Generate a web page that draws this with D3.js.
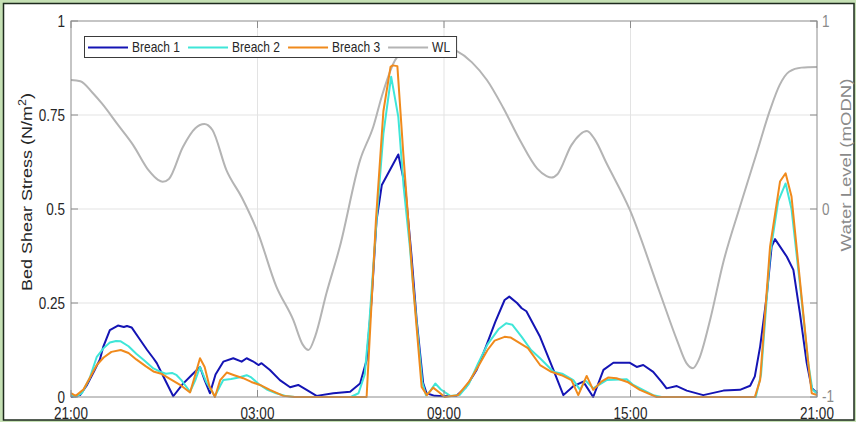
<!DOCTYPE html>
<html>
<head>
<meta charset="utf-8">
<script src="https://cdn.jsdelivr.net/npm/d3@7"></script>
<style>
  body { margin: 0; background: #c5e0b4; }
  svg { display: block; font-family: "Liberation Sans", Arial, sans-serif; }
</style>
</head>
<body>
<svg id="chart" width="856" height="422"></svg>
<script>
// time axis (hours after 21:00)
var tickHours = [0, 6, 12, 18, 24];
var tickLabels = ["21:00", "03:00", "09:00", "15:00", "21:00"];
var stressTicks = [0, 0.25, 0.5, 0.75, 1];
var stressTickLabels = ["0", "0.25", "0.5", "0.75", "1"];
var levelTicks = [-1, -0.5, 0, 0.5, 1];
var levelTickLabels = ["-1", "", "0", "", "1"];

// Breach 1
var b1Hours = [0, 0.29, 0.5, 0.75, 0.93, 1.04, 1.25, 1.51, 1.7, 1.8, 1.95, 2.2, 2.45, 2.65, 2.76, 3, 3.29, 3.6, 3.9, 4.15, 4.3, 4.47, 4.65, 4.9, 5.22, 5.49, 5.65, 5.85, 6.03, 6.13, 6.4, 6.72, 7.05, 7.31, 7.58, 7.9, 8.44, 8.98, 9.3, 9.51, 9.67, 9.83, 10, 10.53, 10.75, 10.95, 11.12, 11.33, 11.44, 11.7, 12, 12.4, 12.7, 13.05, 13.35, 13.65, 13.95, 14.1, 14.35, 14.5, 14.65, 15.09, 15.52, 15.84, 16.15, 16.48, 16.8, 17.13, 17.45, 17.98, 18.2, 18.41, 18.73, 19, 19.16, 19.49, 19.81, 20.34, 20.99, 21.52, 21.85, 22, 22.17, 22.38, 22.54, 22.65, 23.03, 23.24, 23.45, 23.67, 23.83, 24];
var breach1 = [0, 0.005, 0.03, 0.07, 0.1, 0.134, 0.178, 0.19, 0.186, 0.189, 0.185, 0.155, 0.125, 0.103, 0.09, 0.05, 0.002, 0.035, 0.06, 0.08, 0.045, 0.01, 0.06, 0.094, 0.103, 0.094, 0.103, 0.095, 0.085, 0.09, 0.072, 0.045, 0.026, 0.032, 0.019, 0.003, 0.01, 0.014, 0.036, 0.098, 0.258, 0.47, 0.564, 0.645, 0.56, 0.38, 0.205, 0.037, 0.01, 0.003, 0.002, 0.003, 0.025, 0.072, 0.134, 0.2, 0.258, 0.267, 0.25, 0.236, 0.228, 0.16, 0.072, 0.005, 0.028, 0.041, 0, 0.072, 0.091, 0.091, 0.08, 0.085, 0.067, 0.04, 0.023, 0.029, 0.017, 0.005, 0.017, 0.019, 0.03, 0.055, 0.134, 0.267, 0.4, 0.42, 0.373, 0.338, 0.223, 0.09, 0.024, 0.01];

// Breach 2
var b2Hours = [0, 0.15, 0.35, 0.6, 0.83, 1.05, 1.25, 1.45, 1.6, 1.85, 2.1, 2.35, 2.65, 2.85, 3.05, 3.25, 3.4, 3.55, 3.83, 4, 4.15, 4.35, 4.63, 4.8, 4.9, 5.15, 5.4, 5.65, 5.8, 6.03, 6.3, 6.6, 6.9, 7.2, 9, 9.25, 9.45, 9.6, 9.83, 10.05, 10.3, 10.53, 10.7, 10.9, 11.01, 11.3, 11.42, 11.55, 11.72, 11.9, 12.2, 12.5, 12.8, 13.1, 13.4, 13.75, 14, 14.2, 14.5, 14.8, 15.09, 15.52, 15.8, 16.16, 16.38, 16.54, 16.8, 17.23, 17.88, 18.09, 18.73, 19, 22.03, 22.2, 22.49, 22.75, 22.99, 23.18, 23.45, 23.72, 23.85, 24];
var breach2 = [0.005, 0, 0.01, 0.05, 0.107, 0.13, 0.145, 0.149, 0.148, 0.135, 0.115, 0.098, 0.076, 0.068, 0.062, 0.064, 0.058, 0.045, 0.014, 0.045, 0.08, 0.04, 0.002, 0.03, 0.045, 0.048, 0.052, 0.058, 0.052, 0.035, 0.02, 0.01, 0.003, 0, 0, 0.01, 0.06, 0.2, 0.47, 0.7, 0.852, 0.745, 0.56, 0.4, 0.293, 0.04, 0.005, 0.015, 0.036, 0.02, 0.003, 0.005, 0.035, 0.09, 0.14, 0.18, 0.196, 0.192, 0.16, 0.125, 0.103, 0.067, 0.062, 0.045, 0.019, 0.045, 0.023, 0.045, 0.047, 0.032, 0.005, 0, 0, 0.06, 0.38, 0.52, 0.568, 0.5, 0.3, 0.09, 0.02, 0.01];

// Breach 3
var b3Hours = [0, 0.15, 0.4, 0.6, 0.83, 1.05, 1.3, 1.6, 1.85, 2.1, 2.4, 2.65, 2.9, 3.25, 3.55, 3.83, 4, 4.15, 4.3, 4.45, 4.63, 4.8, 5.01, 5.25, 5.54, 5.8, 6.08, 6.4, 6.83, 7.2, 9.51, 9.81, 10.05, 10.28, 10.35, 10.5, 10.69, 11.01, 11.28, 11.45, 11.65, 11.85, 12.02, 12.45, 12.8, 13.09, 13.4, 13.63, 13.95, 14.15, 14.7, 15.09, 15.45, 15.78, 16.1, 16.32, 16.59, 16.8, 17.05, 17.29, 17.55, 17.9, 18.3, 18.84, 22, 22.17, 22.49, 22.81, 22.99, 23.18, 23.45, 23.72, 23.83, 24];
var breach3 = [0.01, 0.003, 0.02, 0.05, 0.085, 0.105, 0.12, 0.125, 0.117, 0.1, 0.082, 0.068, 0.062, 0.045, 0.03, 0.012, 0.06, 0.103, 0.08, 0.03, 0, 0.045, 0.065, 0.058, 0.05, 0.04, 0.032, 0.019, 0.003, 0, 0, 0.47, 0.76, 0.878, 0.882, 0.88, 0.648, 0.293, 0.027, 0.005, 0.025, 0.012, 0, 0.005, 0.04, 0.08, 0.125, 0.15, 0.16, 0.158, 0.13, 0.085, 0.067, 0.058, 0.045, 0.005, 0.056, 0.019, 0.04, 0.052, 0.05, 0.04, 0.019, 0, 0, 0.045, 0.4, 0.573, 0.595, 0.533, 0.311, 0.09, 0.01, 0.005];

// Water level (right axis)
var wlHours = [0, 0.3, 0.7, 1, 1.5, 2, 2.5, 2.8, 2.95, 3.15, 3.6, 4, 4.29, 4.55, 5, 5.5, 6, 6.6, 7.15, 7.45, 7.64, 7.85, 8.22, 8.65, 9.3, 9.73, 10, 10.42, 10.8, 11.3, 11.8, 12.35, 12.9, 13.38, 13.9, 14.44, 15, 15.3, 15.46, 15.65, 16.1, 16.6, 16.85, 17.23, 17.98, 18.95, 19.5, 19.8, 20.01, 20.2, 20.56, 20.98, 21.52, 22.06, 22.49, 22.8, 23.1, 23.5, 24];
var wlLevels = [0.686, 0.68, 0.617, 0.56, 0.45, 0.34, 0.205, 0.155, 0.145, 0.16, 0.33, 0.43, 0.452, 0.42, 0.207, 0.06, -0.12, -0.41, -0.59, -0.72, -0.75, -0.68, -0.447, -0.2, 0.26, 0.44, 0.6, 0.79, 0.855, 0.878, 0.875, 0.846, 0.78, 0.686, 0.54, 0.367, 0.215, 0.175, 0.167, 0.185, 0.34, 0.415, 0.37, 0.243, -0.005, -0.448, -0.7, -0.82, -0.847, -0.8, -0.59, -0.287, 0.012, 0.298, 0.527, 0.66, 0.73, 0.752, 0.755];

var seriesNames = ["Breach 1", "Breach 2", "Breach 3", "WL"];

var colors = {
  b1: "#1414b4",
  b2: "#3fe6d8",
  b3: "#f08a1c",
  wl: "#b4b4b4",
  grid: "#e3e3e3",
  axis: "#8c8c8c",
  text: "#262626",
  rtext: "#8a8a8a"
};

var SY = 1.2;  // picture is stretched vertically
var W = 856, H = 422;
var plot = {left: 71, right: 817, top: 21, bottom: 397};

var svg = d3.select("#chart");

// frame
svg.append("rect").attr("width", W).attr("height", H).attr("fill", "#c5e0b4");
svg.append("rect")
  .attr("x", 3.5).attr("y", 3.5).attr("width", 850.5).attr("height", 416.5)
  .attr("fill", "white").attr("stroke", "#1e2a1e").attr("stroke-width", 1.5);

var x = d3.scaleLinear().domain([0, 24]).range([plot.left, plot.right]);
var yL = d3.scaleLinear().domain([0, 1]).range([plot.bottom, plot.top]);
var yR = d3.scaleLinear().domain([-1, 1]).range([plot.bottom, plot.top]);

// grid
var grid = svg.append("g").attr("stroke", colors.grid).attr("stroke-width", 1);
tickHours.slice(1, -1).forEach(function(h) {
  grid.append("line").attr("x1", x(h)).attr("x2", x(h)).attr("y1", plot.top).attr("y2", plot.bottom);
});
stressTicks.slice(1, -1).forEach(function(v) {
  grid.append("line").attr("x1", plot.left).attr("x2", plot.right).attr("y1", yL(v)).attr("y2", yL(v));
});

// helper for stretched text
function label(parent, px, py, txt, size, anchor, color) {
  return parent.append("text")
    .attr("transform", "translate(" + px + "," + py + ") scale(1," + SY + ")")
    .attr("text-anchor", anchor)
    .style("font-size", size + "px")
    .attr("fill", color)
    .text(txt);
}

// lines
function pts(hours, vals) {
  return hours.map(function(h, i) { return [h, vals[i]]; });
}
var lineL = d3.line().x(function(d) { return x(d[0]); }).y(function(d) { return yL(d[1]); });
var lineR = d3.line().x(function(d) { return x(d[0]); }).y(function(d) { return yR(d[1]); })
  .curve(d3.curveMonotoneX);

var plotG = svg.append("g");
plotG.append("path").attr("d", lineR(pts(wlHours, wlLevels)))
  .attr("fill", "none").attr("stroke", colors.wl).attr("stroke-width", 2);
[[b1Hours, breach1, colors.b1], [b2Hours, breach2, colors.b2], [b3Hours, breach3, colors.b3]].forEach(function(s) {
  plotG.append("path").attr("d", lineL(pts(s[0], s[1])))
    .attr("fill", "none").attr("stroke", s[2]).attr("stroke-width", 2)
    .attr("stroke-linejoin", "round");
});

// axes box
var ax = svg.append("g").attr("stroke", colors.axis).attr("stroke-width", 1).attr("fill", "none");
ax.append("rect").attr("x", plot.left).attr("y", plot.top)
  .attr("width", plot.right - plot.left).attr("height", plot.bottom - plot.top);
var tl = 7;
tickHours.forEach(function(h) {
  ax.append("line").attr("x1", x(h)).attr("x2", x(h)).attr("y1", plot.bottom).attr("y2", plot.bottom - tl);
  ax.append("line").attr("x1", x(h)).attr("x2", x(h)).attr("y1", plot.top).attr("y2", plot.top + tl);
});
stressTicks.forEach(function(v) {
  ax.append("line").attr("x1", plot.left).attr("x2", plot.left + tl).attr("y1", yL(v)).attr("y2", yL(v));
});
levelTicks.forEach(function(v) {
  ax.append("line").attr("x1", plot.right).attr("x2", plot.right - tl).attr("y1", yR(v)).attr("y2", yR(v));
});

// tick labels
var fs = 13.5;
var txt = svg.append("g");
tickHours.forEach(function(h, i) {
  label(txt, x(h), 419, tickLabels[i], fs, "middle", colors.text);
});
stressTicks.forEach(function(v, i) {
  label(txt, 65, yL(v) + 0.36 * fs * SY, stressTickLabels[i], fs, "end", colors.text);
});
levelTicks.forEach(function(v, i) {
  if (levelTickLabels[i]) label(txt, 822, yR(v) + 0.36 * fs * SY - (v === -1 ? 1 : 0), levelTickLabels[i], fs, "start", colors.rtext);
});

// axis titles
var lt = txt.append("text")
  .attr("transform", "translate(32,192) scale(1," + SY + ") rotate(-90)")
  .attr("text-anchor", "middle").style("font-size", "15px").attr("fill", colors.text);
lt.append("tspan").text("Bed Shear Stress (N/m");
lt.append("tspan").attr("dy", -6).style("font-size", "10.5px").text("2");
lt.append("tspan").attr("dy", 6).text(")");

txt.append("text")
  .attr("transform", "translate(851,165) scale(1," + SY + ") rotate(-90)")
  .attr("text-anchor", "middle").style("font-size", "15.5px").attr("fill", colors.rtext)
  .text("Water Level (mODN)");

// legend
var leg = svg.append("g");
var box = leg.append("rect").attr("x", 84.5).attr("y", 36.5).attr("height", 21)
  .attr("fill", "white").attr("stroke", "#3a3a3a").attr("stroke-width", 1);
var legColors = [colors.b1, colors.b2, colors.b3, colors.wl];
var cx = 88;
seriesNames.forEach(function(name, i) {
  leg.append("line").attr("x1", cx).attr("x2", cx + 40).attr("y1", 47.5).attr("y2", 47.5)
    .attr("stroke", legColors[i]).attr("stroke-width", 2);
  var t = label(leg, cx + 44, 51.5, name, 12, "start", colors.text);
  cx = cx + 44 + t.node().getComputedTextLength() + 8;
});
box.attr("width", cx - 8 - 84 + 6);
</script>
</body>
</html>
